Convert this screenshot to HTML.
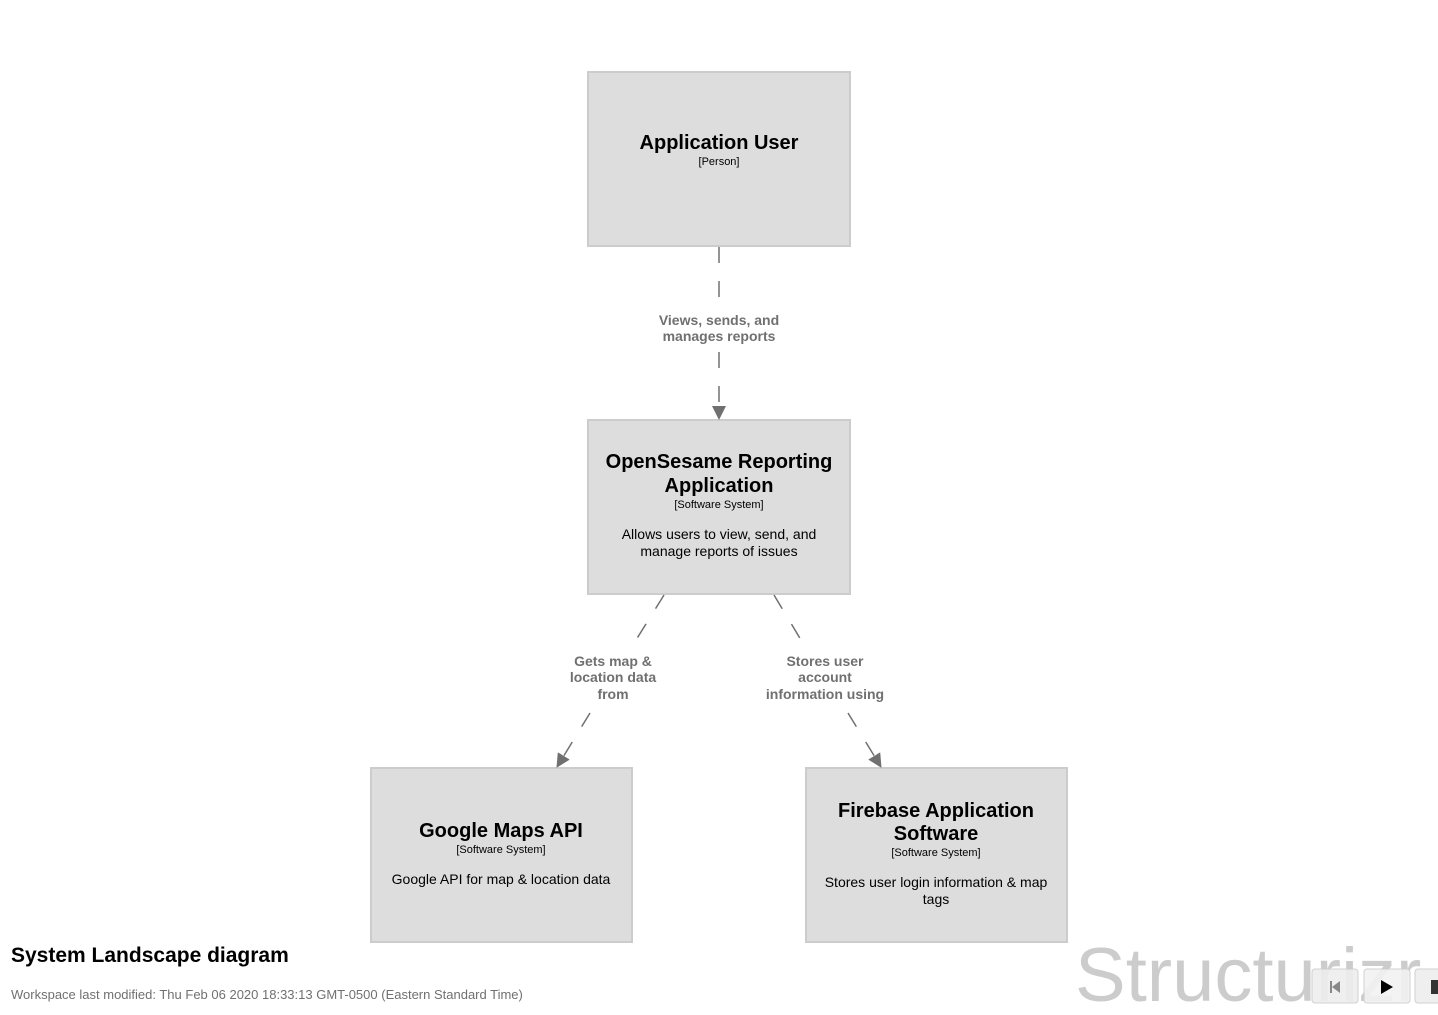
<!DOCTYPE html>
<html><head><meta charset="utf-8"><style>
html,body{margin:0;padding:0;background:#fff;width:1438px;height:1015px;overflow:hidden}
text{font-family:"Liberation Sans",sans-serif}
</style></head><body>
<svg width="1438" height="1015" xmlns="http://www.w3.org/2000/svg">
<defs><marker id="a" markerWidth="14" markerHeight="14" refX="13" refY="7" orient="auto" markerUnits="userSpaceOnUse"><path d="M0,0 L14,7 L0,14 z" fill="#707070"/></marker></defs>
<text x="1075" y="1001" font-size="76" fill="#cccccc">Structurizr</text>
<g stroke="#cccccc" stroke-width="2" fill="#dddddd">
<rect x="588" y="72" width="262" height="174"/>
<rect x="588" y="420" width="262" height="174"/>
<rect x="371" y="768" width="261" height="174"/>
<rect x="806" y="768" width="261" height="174"/>
</g>
<g stroke="#707070" stroke-width="1.5" fill="none" stroke-dasharray="16,18">
<line x1="719" y1="247" x2="719" y2="305"/>
<line x1="719" y1="352" x2="719" y2="419" marker-end="url(#a)"/>
<line x1="664" y1="595" x2="636" y2="640"/>
<line x1="590" y1="713" x2="557" y2="767" marker-end="url(#a)"/>
<line x1="774" y1="595" x2="801" y2="640"/>
<line x1="848" y1="713" x2="881" y2="767" marker-end="url(#a)"/>
</g>
<g text-anchor="middle">
<text x="719" y="149" font-size="20" font-weight="bold">Application User</text>
<text x="719" y="165" font-size="11">[Person]</text>
<text x="719" y="468" font-size="20" font-weight="bold">OpenSesame Reporting</text>
<text x="719" y="492" font-size="20" font-weight="bold">Application</text>
<text x="719" y="508" font-size="11">[Software System]</text>
<text x="719" y="539" font-size="14">Allows users to view, send, and</text>
<text x="719" y="556" font-size="14">manage reports of issues</text>
<text x="501" y="837" font-size="20" font-weight="bold">Google Maps API</text>
<text x="501" y="853" font-size="11">[Software System]</text>
<text x="501" y="884" font-size="14">Google API for map &amp; location data</text>
<text x="936" y="817" font-size="20" font-weight="bold">Firebase Application</text>
<text x="936" y="840" font-size="20" font-weight="bold">Software</text>
<text x="936" y="856" font-size="11">[Software System]</text>
<text x="936" y="887" font-size="14">Stores user login information &amp; map</text>
<text x="936" y="904" font-size="14">tags</text>
<g font-size="14" font-weight="bold" fill="#707070">
<text x="719" y="325">Views, sends, and</text>
<text x="719" y="341">manages reports</text>
<text x="613" y="666">Gets map &amp;</text>
<text x="613" y="682">location data</text>
<text x="613" y="699">from</text>
<text x="825" y="666">Stores user</text>
<text x="825" y="682">account</text>
<text x="825" y="699">information using</text>
</g>
</g>
<text x="11" y="962" font-size="21" font-weight="bold">System Landscape diagram</text>
<text x="11" y="999" font-size="13" fill="#707070">Workspace last modified: Thu Feb 06 2020 18:33:13 GMT-0500 (Eastern Standard Time)</text>
<g stroke="#cccccc" stroke-width="1" fill="#eeeeee" opacity="0.9">
<rect x="1312" y="969" width="46" height="34" rx="3"/>
<rect x="1364" y="969" width="46" height="34" rx="3" fill="#f2f2f2"/>
<rect x="1415" y="969" width="30" height="34" rx="3"/>
</g>
<path d="M1330,981 h2 v12 h-2 z M1340,981 v12 l-8,-6 z" fill="#888"/>
<path d="M1381,980 l12,7 l-12,7 z" fill="#000"/>
<rect x="1431" y="980" width="8" height="14" fill="#333"/>
</svg>
</body></html>
